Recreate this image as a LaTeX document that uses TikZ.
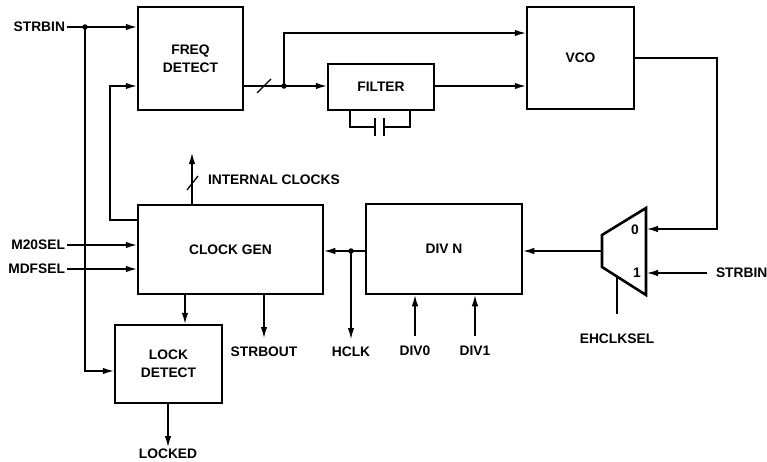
\documentclass[tikz,border=0pt]{standalone}
\usepackage{fontspec}
\setmainfont{Liberation Sans}
\usetikzlibrary{arrows.meta}
\newcommand\lbl{\fontsize{13.8}{18}\selectfont\bfseries}
\begin{document}
\begin{tikzpicture}[x=1pt,y=-1pt,
  box/.style={draw,line width=2.5pt,inner sep=0pt,align=center,font=\lbl},
  lab/.style={inner sep=0pt,outer sep=2pt,font=\lbl},
  wire/.style={line width=1.3pt},
  arr/.style={wire,-{Latex[length=11pt,width=6.5pt]}},
  dot/.style={circle,fill,inner sep=0pt,minimum size=5.5pt}]
\useasboundingbox (0,0) rectangle (767,461);

% blocks
\node[box,minimum width=105pt,minimum height=103pt] (fd) at (190.5,58.5) {FREQ\\DETECT};
\node[box,minimum width=106pt,minimum height=46pt] (filt) at (381,87) {FILTER};
\node[box,minimum width=107pt,minimum height=102pt] (vco) at (580.5,58) {VCO};
\node[box,minimum width=185pt,minimum height=89pt] (cg) at (230.5,249.5) {CLOCK GEN};
\node[box,minimum width=156pt,minimum height=90pt] (div) at (444,249) {DIV N};
\node[box,minimum width=107pt,minimum height=78pt] (ld) at (168.5,364) {LOCK\\DETECT};

% mux
\draw[line width=2.6pt,line join=miter] (646,208) -- (646,295) -- (602,267) -- (602,235) -- cycle;
\coordinate (mux0) at (647,229);
\coordinate (mux1) at (647,273);
\coordinate (muxout) at (602,251);
\coordinate (muxsel) at (617,276.5);
\node[lab] (m0) at (635,230) {0};
\node[lab] (m1) at (637,273) {1};

% labels
\node[lab,anchor=east] (strbin) at (67,27) {STRBIN};
\node[lab,anchor=east] (m20) at (67,245) {M20SEL};
\node[lab,anchor=east] (mdf) at (67,269) {MDFSEL};
\node[lab,anchor=west] (strbin2) at (714,273) {STRBIN};
\node[lab] (ehclk) at (617,339) {EHCLKSEL};
\node[lab] (hclk) at (351,352) {HCLK};
\node[lab] (strbout) at (264,352) {STRBOUT};
\node[lab] (div0) at (415,351) {DIV0};
\node[lab] (div1) at (475,351) {DIV1};
\node[lab] (locked) at (168,454) {LOCKED};
\node[lab,anchor=west] (ic) at (206,180) {INTERNAL CLOCKS};

% STRBIN inputs
\coordinate (j1) at (85,27);
\coordinate (j1b) at (85,371);
\draw[arr] (strbin.east) -- (fd.west |- strbin.east);
\draw[arr] (j1) -- (j1b) -- (ld.west |- j1b);
\node[dot] at (j1) {};

% feedback from clock gen to freq detect
\coordinate (fb1) at (110,220);
\coordinate (fb2) at (110,86);
\draw[arr] (cg.west |- fb1) -- (fb1) -- (fb2) -- (fd.west |- fb2);

% freq detect output
\coordinate (j2) at (284,86);
\coordinate (j2t) at (284,33);
\draw[wire] (fd.east |- j2) -- (j2);
\draw[wire] (257,93) -- (271,79);
\draw[arr] (j2) -- (filt.west |- j2);
\draw[arr] (j2) -- (j2t) -- (vco.west |- j2t);
\node[dot] at (j2) {};
\draw[arr] (filt.east |- j2) -- (vco.west |- j2);

% capacitor
\coordinate (c1) at (350,127);
\coordinate (c2) at (410,127);
\coordinate (p1) at (375,127);
\coordinate (p2) at (384,127);
\draw[wire] (filt.south -| c1) -- (c1) -- (p1);
\draw[wire] (p2) -- (c2) -- (filt.south -| c2);
\draw[wire] (375,118) -- (375,136);
\draw[wire] (384,118) -- (384,136);

% VCO to mux
\coordinate (v1) at (717,58);
\coordinate (v2) at (717,229);
\draw[arr] (vco.east |- v1) -- (v1) -- (v2) -- (mux0);
\coordinate (s2) at (707,273);
\draw[arr] (s2) -- (mux1);
\coordinate (selend) at (617,314);
\draw[wire] (muxsel) -- (selend);
\draw[arr] (muxout) -- (div.east |- muxout);

% DIV N to clock gen
\coordinate (j3) at (351,251);
\coordinate (hclkend) at (351,339);
\draw[arr] (div.west |- j3) -- (cg.east |- j3);
\draw[arr] (j3) -- (hclkend);
\node[dot] at (j3) {};
\coordinate (d0) at (415,336);
\coordinate (d1) at (475,336);
\draw[arr] (d0) -- (div.south -| d0);
\draw[arr] (d1) -- (div.south -| d1);

% clock gen I/O
\draw[arr] (m20.east) -- (cg.west |- m20.east);
\draw[arr] (mdf.east) -- (cg.west |- mdf.east);
\coordinate (sb) at (264,338);
\draw[arr] (cg.south -| sb) -- (sb);
\coordinate (ldin) at (185,300);
\draw[arr] (cg.south -| ldin) -- (ld.north -| ldin);
\coordinate (ic1) at (192,153);
\draw[arr] (cg.north -| ic1) -- (ic1);
\draw[wire] (187,190) -- (198,176);

% lock detect output
\coordinate (lk) at (168,447);
\draw[arr] (ld.south -| lk) -- (lk);
\end{tikzpicture}
\end{document}
